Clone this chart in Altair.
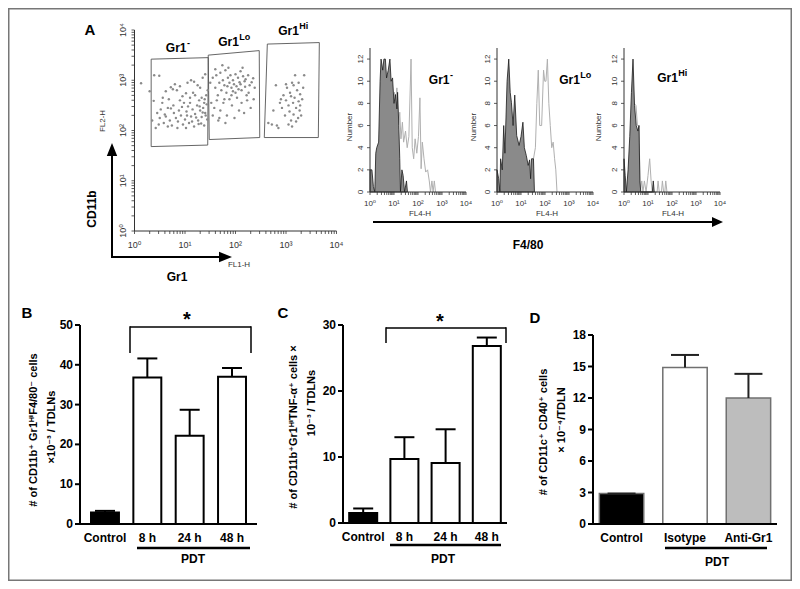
import math
import altair as alt
import pandas as pd

W, H = 784, 573
M = 8
FONT = "Liberation Sans, Arial, DejaVu Sans, sans-serif"


def px(v):
    return v - M


ONE = pd.DataFrame({"k": [0]})

# ---------------- Panel A: dot plot (log10 FL1-H, log10 FL2-H) ----------------
neg_x = [0.39, 0.49, 0.38, 0.72, 0.76, 0.84, 0.90, 0.80, 1.05, 1.12, 1.18, 1.25, 1.30, 1.35, 1.40, 0.62,
         0.55, 0.68, 0.95, 1.02, 1.10, 1.20, 1.28, 1.38, 1.42, 0.45, 0.50, 0.58, 0.62, 0.70, 0.74, 0.78,
         0.82, 0.86, 0.88, 0.92, 0.96, 1.00, 1.03, 1.06, 1.08, 1.12, 1.15, 1.18, 1.20, 1.24, 1.26, 1.30,
         1.33, 1.36, 1.38, 1.40, 1.43, 1.44, 0.66, 0.98, 0.35, 0.42, 0.52, 1.33, 1.45, 1.27, 0.30, 0.13,
         0.60, 0.72, 0.85, 0.94, 1.04, 1.14, 1.22, 1.32, 1.41, 0.48, 0.66, 0.90, 1.10, 1.35, 1.16, 1.02,
         0.77, 1.29, 1.39, 0.56]
neg_y = [3.10, 3.09, 2.59, 2.86, 2.82, 2.80, 2.88, 2.92, 2.95, 3.00, 2.97, 2.90, 2.85, 3.05, 3.12, 2.78,
         2.55, 2.62, 2.68, 2.74, 2.65, 2.70, 2.60, 2.55, 2.70, 2.35, 2.25, 2.15, 2.28, 2.20, 2.10, 2.35,
         2.25, 2.18, 2.40, 2.30, 2.12, 2.22, 2.38, 2.48, 2.15, 2.28, 2.42, 2.08, 2.33, 2.50, 2.20, 2.40,
         2.27, 2.45, 2.10, 2.35, 2.52, 2.22, 2.45, 2.55, 2.20, 2.05, 2.42, 2.65, 2.80, 2.13, 2.78, 2.94,
         2.32, 2.44, 2.05, 2.47, 2.30, 2.18, 2.26, 2.14, 2.30, 2.12, 2.08, 2.60, 2.55, 2.36, 2.75, 2.05,
         2.50, 2.48, 2.62, 2.65]
lo_x = [1.50, 1.55, 1.60, 1.62, 1.65, 1.68, 1.70, 1.72, 1.75, 1.78, 1.80, 1.82, 1.85, 1.88, 1.90, 1.92,
        1.95, 1.97, 2.00, 2.02, 2.05, 2.08, 2.10, 2.12, 2.15, 2.18, 2.20, 2.22, 2.25, 2.28, 2.32, 2.35,
        2.38, 1.52, 1.58, 1.63, 1.70, 1.76, 1.83, 1.88, 1.93, 1.98, 2.03, 2.07, 2.12, 2.17, 2.23, 2.30,
        1.55, 1.66, 1.80, 1.95, 2.00, 2.06, 1.86, 1.74, 2.14, 1.60, 1.68, 2.26, 2.36, 1.92, 2.10, 1.84,
        2.19, 1.78]
lo_y = [2.95, 3.05, 2.85, 3.10, 2.70, 2.95, 3.15, 2.80, 3.00, 2.90, 3.20, 2.75, 3.05, 2.95, 3.10, 2.85,
        3.00, 2.92, 3.12, 2.88, 3.05, 2.96, 3.18, 2.80, 3.08, 2.98, 3.02, 2.70, 3.10, 2.90, 2.96, 3.04,
        2.85, 2.55, 2.45, 2.60, 2.40, 2.55, 2.30, 2.62, 2.50, 2.25, 2.65, 2.40, 2.55, 2.35, 2.60, 2.45,
        2.30, 2.20, 2.15, 2.78, 2.75, 2.82, 3.25, 3.30, 3.25, 3.22, 2.25, 2.75, 2.62, 2.70, 2.92, 2.88,
        2.87, 2.62]
hi_x = [2.65, 2.72, 2.75, 2.80, 2.85, 2.88, 2.92, 2.95, 2.98, 3.00, 3.02, 3.05, 3.07, 3.08, 3.10, 3.12,
        3.14, 3.15, 3.17, 3.18, 3.20, 3.22, 3.24, 3.25, 3.27, 3.28, 3.30, 3.32, 3.34, 3.36, 3.05, 3.12,
        3.20, 2.90, 3.00, 3.10, 3.28, 2.82, 3.15, 3.25]
hi_y = [2.15, 2.12, 2.40, 2.90, 2.05, 2.55, 2.45, 2.70, 2.30, 2.60, 2.85, 2.50, 2.38, 2.75, 2.20, 2.95,
        2.55, 2.32, 2.65, 3.10, 2.45, 2.80, 2.25, 2.58, 2.40, 2.72, 2.30, 2.62, 2.85, 3.10, 2.12, 2.08,
        2.18, 2.62, 2.92, 2.68, 2.50, 2.10, 2.90, 2.95]

gate_neg_x = [0.33, 1.46, 1.45, 0.33, 0.33]
gate_neg_y = [3.42, 3.45, 1.71, 1.68, 3.42]
gate_lo_x = [1.46, 2.47, 2.48, 1.48, 1.46]
gate_lo_y = [3.50, 3.59, 1.86, 1.82, 3.50]
gate_hi_x = [2.63, 3.66, 3.64, 2.57, 2.63]
gate_hi_y = [3.72, 3.75, 1.86, 1.86, 3.72]

# ---------------- Panel A: histograms (log10 FL4-H vs number) ----------------
h1_iso_x = [0.00, 0.08, 0.14, 0.20, 0.24, 0.28, 0.36, 0.42, 0.46, 0.53, 0.58, 0.64, 0.69, 0.76, 0.83,
            0.88, 0.94, 1.00, 1.06, 1.12, 1.15, 1.20, 1.24, 1.27, 1.33, 1.38, 1.44, 1.52, 1.56]
h1_iso_y = [2, 2, 0.5, 0, 3.5, 4, 4.5, 10, 12, 11, 12, 12, 10.3, 11, 12, 10, 10.3, 8, 8.8, 7.5, 9, 6,
            3, 0, 2, 1.5, 0, 1, 0]
h1_pos_x = [0.95, 1.02, 1.08, 1.12, 1.18, 1.24, 1.29, 1.35, 1.40, 1.48, 1.55, 1.62, 1.71, 1.76, 1.82,
            1.88, 1.95, 2.02, 2.08, 2.13, 2.18, 2.25, 2.32, 2.40, 2.47, 2.52, 2.58, 2.63, 2.68, 2.73]
h1_pos_y = [8, 9, 8, 9.4, 5.7, 7.2, 4.8, 6.3, 4.5, 5.5, 4, 5, 12, 4, 3, 4.8, 3.5, 5, 8.5, 2.1, 4.5, 3,
            1.8, 2, 1, 0, 1, 0, 1, 0]

h2_iso_x = [0.00, 0.07, 0.12, 0.15, 0.22, 0.28, 0.33, 0.42, 0.49, 0.55, 0.60, 0.67, 0.74, 0.82, 0.92,
            1.00, 1.08, 1.14, 1.22, 1.30, 1.36, 1.40, 1.44, 1.52, 1.56]
h2_iso_y = [2, 1.2, 0, 3, 2, 6, 3.5, 10, 12, 9, 8.1, 6, 8.75, 5.1, 4.2, 5, 6.3, 4, 3.3, 2.4, 2.9, 1.2,
            3, 3, 0]
h2_pos_x = [1.42, 1.52, 1.60, 1.66, 1.72, 1.78, 1.86, 1.94, 1.99, 2.04, 2.10, 2.16, 2.22, 2.28, 2.34,
            2.40, 2.45, 2.50]
h2_pos_y = [0, 3, 4, 8, 11, 6, 6, 11, 10, 10, 12, 8, 6, 4, 4.5, 3, 2, 0]

h3_iso_x = [0.00, 0.05, 0.10, 0.17, 0.24, 0.31, 0.375, 0.44, 0.51, 0.58, 0.625, 0.66, 0.70, 1.18, 1.22,
            1.26]
h3_iso_y = [3, 1.5, 0, 2, 5, 9, 12, 7.8, 6, 5.5, 6, 1, 0, 0, 1, 0]
h3_pos_x = [0.42, 0.50, 0.56, 0.62, 0.68, 0.74, 0.79, 0.85, 0.92, 1.00, 1.07, 1.13, 1.18, 1.38, 1.42,
            1.47, 1.56, 1.60, 1.65, 1.70, 1.74, 1.79]
h3_pos_y = [8, 7.8, 6, 6, 0, 1, 0, 1, 0, 1.5, 3, 1, 0, 0, 1, 0, 0, 1, 0, 0, 1, 0]

# ---------------- Panels B, C, D: bars ----------------
b_cats = ["Control", "8 h", "24 h", "48 h"]
b_vals = [2.9, 36.8, 22.2, 37.0]
b_errs = [0.4, 4.8, 6.5, 2.2]

c_cats = ["Control", "8 h", "24 h", "48 h"]
c_vals = [1.5, 9.7, 9.1, 26.8]
c_errs = [0.7, 3.3, 5.1, 1.3]

d_cats = ["Control", "Isotype", "Anti-Gr1"]
d_vals = [2.9, 14.9, 12.0]
d_errs = [0.0, 1.2, 2.3]

# tick values / labels
LOG_TICKS = [round(n + math.log10(k), 5) for n in range(4) for k in range(1, 10)] + [4.0]
DECADES = [0, 1, 2, 3, 4]
DEC_LABELS = ["10⁰", "10¹", "10²", "10³", "10⁴"]
HIST_TICKS = [0, 2, 4, 6, 8, 10, 12]
B_TICKS = [0, 10, 20, 30, 40, 50]
C_TICKS = [0, 10, 20, 30]
D_TICKS = [0, 3, 6, 9, 12, 15, 18]


# ---------------- helpers ----------------
def T(s, x, y, size=12, bold=True, angle=None, align="center", baseline="middle", color="black"):
    kw = dict(text=s, font=FONT, fontSize=size, fontWeight="bold" if bold else "normal",
              align=align, baseline=baseline, color=color)
    if angle is not None:
        kw["angle"] = angle
    return alt.Chart(ONE).mark_text(**kw).encode(x=alt.value(px(x)), y=alt.value(px(y)))


SUPW = {"-": 0.40, "Lo": 1.22, "Hi": 1.00}


def SUPLAB(sup, cx, cy, size=12):
    wb = 1.72 * size
    ws = SUPW[sup] * 0.75 * size
    split = cx - (wb + ws) / 2 + wb
    return [T("Gr1", split, cy, size=size, align="right"),
            T(sup, split + 0.5, cy - 0.42 * size, size=round(0.75 * size), align="left")]


def SEG(x1, y1, x2, y2, w=2, color="black"):
    return alt.Chart(ONE).mark_rule(color=color, strokeWidth=w, strokeCap="butt").encode(
        x=alt.value(px(x1)), y=alt.value(px(y1)), x2=alt.value(px(x2)), y2=alt.value(px(y2)))


def HEAD(x, y, path, size):
    return alt.Chart(ONE).mark_point(shape=path, filled=True, color="black", size=size, opacity=1,
                                     strokeWidth=0).encode(x=alt.value(px(x)), y=alt.value(px(y)))


def x_axis_q(sx, ticks, labels, lab_vals, y_pix, lab_y, size, lo, hi, color="#333", tl=3):
    line = alt.Chart(pd.DataFrame({"a": [lo], "b": [hi]})).mark_rule(
        color=color, strokeWidth=1).encode(
        x=alt.X("a:Q", scale=sx, axis=None), x2="b:Q", y=alt.value(px(y_pix)))
    tk = alt.Chart(pd.DataFrame({"v": ticks})).mark_rule(color=color, strokeWidth=0.8).encode(
        x=alt.X("v:Q", scale=sx, axis=None), y=alt.value(px(y_pix)), y2=alt.value(px(y_pix + tl)))
    lb = alt.Chart(pd.DataFrame({"v": lab_vals, "lab": labels})).mark_text(
        font=FONT, fontSize=size, color=color).encode(
        x=alt.X("v:Q", scale=sx, axis=None), y=alt.value(px(lab_y)), text="lab:N")
    return [line, tk, lb]


def y_axis_q(sy, ticks, labels, lab_vals, x_pix, lab_x, size, lo, hi, color="#333", tl=3):
    line = alt.Chart(pd.DataFrame({"a": [lo], "b": [hi]})).mark_rule(
        color=color, strokeWidth=1).encode(
        y=alt.Y("a:Q", scale=sy, axis=None), y2="b:Q", x=alt.value(px(x_pix)))
    tk = alt.Chart(pd.DataFrame({"v": ticks})).mark_rule(color=color, strokeWidth=0.8).encode(
        y=alt.Y("v:Q", scale=sy, axis=None), x=alt.value(px(x_pix - tl)), x2=alt.value(px(x_pix)))
    lb = alt.Chart(pd.DataFrame({"v": lab_vals, "lab": labels})).mark_text(
        font=FONT, fontSize=size, color=color, angle=270).encode(
        y=alt.Y("v:Q", scale=sy, axis=None), x=alt.value(px(lab_x)), text="lab:N")
    return [line, tk, lb]


# ---------------- scatter ----------------
scat_df = pd.DataFrame({"lx": neg_x + lo_x + hi_x, "ly": neg_y + lo_y + hi_y})
gate_rows = []
for name, gx, gy in [("neg", gate_neg_x, gate_neg_y), ("lo", gate_lo_x, gate_lo_y),
                     ("hi", gate_hi_x, gate_hi_y)]:
    for i, (a, b) in enumerate(zip(gx, gy)):
        gate_rows.append({"gate": name, "i": i, "lx": a, "ly": b})
gate_df = pd.DataFrame(gate_rows)

SX = alt.Scale(domain=[0, 4], range=[px(134.5), px(336.5)], nice=False, zero=False)
SY = alt.Scale(domain=[0, 4], range=[px(231), px(30)], nice=False, zero=False)

scat_pts = alt.Chart(scat_df).mark_circle(size=6, color="#8a8a8a", opacity=1).encode(
    x=alt.X("lx:Q", scale=SX, axis=None), y=alt.Y("ly:Q", scale=SY, axis=None))
gates = alt.Chart(gate_df).mark_line(color="#555", strokeWidth=0.9).encode(
    x=alt.X("lx:Q", scale=SX, axis=None), y=alt.Y("ly:Q", scale=SY, axis=None),
    detail="gate:N", order="i:Q")
scatter = alt.layer(
    gates, scat_pts,
    *x_axis_q(SX, LOG_TICKS, DEC_LABELS, DECADES, 231, 245, 9, 0, 4),
    *y_axis_q(SY, LOG_TICKS, DEC_LABELS, DECADES, 134.5, 123, 9, 0, 4),
)


# ---------------- histograms ----------------
def hist(iso_x, iso_y, pos_x, pos_y, x0):
    sx = alt.Scale(domain=[0, 4], range=[px(x0), px(x0 + 96)], nice=False, zero=False)
    sy = alt.Scale(domain=[0, 13], range=[px(192), px(48)], nice=False, zero=False)
    pos = alt.Chart(pd.DataFrame({"lx": pos_x, "n": pos_y})).mark_line(
        color="#b0b0b0", strokeWidth=1).encode(
        x=alt.X("lx:Q", scale=sx, axis=None), y=alt.Y("n:Q", scale=sy, axis=None))
    iso = alt.Chart(pd.DataFrame({"lx": iso_x, "n": iso_y})).mark_area(
        color="#8a8a8a", stroke="#1a1a1a", strokeWidth=0.8, opacity=1).encode(
        x=alt.X("lx:Q", scale=sx, axis=None), y=alt.Y("n:Q", scale=sy, axis=None))
    return alt.layer(
        pos, iso,
        *x_axis_q(sx, LOG_TICKS, DEC_LABELS, DECADES, 192, 204, 8, 0, 4),
        *y_axis_q(sy, HIST_TICKS, [str(v) for v in HIST_TICKS], HIST_TICKS, x0, x0 - 9, 8, 0, 13),
    )


hist1 = hist(h1_iso_x, h1_iso_y, h1_pos_x, h1_pos_y, 370)
hist2 = hist(h2_iso_x, h2_iso_y, h2_pos_x, h2_pos_y, 497)
hist3 = hist(h3_iso_x, h3_iso_y, h3_pos_x, h3_pos_y, 624)


# ---------------- bar panels ----------------
def bars(cats, vals, errs, colors, stroke, sw, xr, pi, po, y0, ytop, dmax, ticks, cap, errc):
    df = pd.DataFrame({"cat": cats, "val": vals, "top": [v + e for v, e in zip(vals, errs)]})
    xs = alt.Scale(domain=cats, range=[px(xr[0]), px(xr[1])], paddingInner=pi, paddingOuter=po)
    ys = alt.Scale(domain=[0, dmax], range=[px(y0), px(ytop)], nice=False, zero=True)
    X = alt.X("cat:N", scale=xs, axis=None, sort=cats)
    b = alt.Chart(df).mark_bar(stroke=stroke, strokeWidth=sw, opacity=1).encode(
        x=X, y=alt.Y("val:Q", scale=ys, axis=None),
        color=alt.Color("cat:N", scale=alt.Scale(domain=cats, range=colors), legend=None))
    e = alt.Chart(df).mark_rule(color=errc, strokeWidth=2).encode(
        x=X, y=alt.Y("val:Q", scale=ys, axis=None), y2="top:Q")
    c = alt.Chart(df).mark_tick(color=errc, thickness=2, size=cap, opacity=1).encode(
        x=X, y=alt.Y("top:Q", scale=ys, axis=None))
    # y axis
    yline = alt.Chart(pd.DataFrame({"a": [0], "b": [dmax]})).mark_rule(
        color="black", strokeWidth=2).encode(
        y=alt.Y("a:Q", scale=ys, axis=None), y2="b:Q", x=alt.value(px(xr[0])))
    tdf = pd.DataFrame({"v": ticks})
    yt = alt.Chart(tdf).mark_rule(color="black", strokeWidth=2).encode(
        y=alt.Y("v:Q", scale=ys, axis=None), x=alt.value(px(xr[0] - 5)), x2=alt.value(px(xr[0])))
    yl = alt.Chart(tdf).mark_text(font=FONT, fontSize=12, fontWeight="bold", align="right",
                                  color="black").encode(
        y=alt.Y("v:Q", scale=ys, axis=None), x=alt.value(px(xr[0] - 7)), text="v:Q")
    # x axis
    xline = SEG(xr[0] - 1, y0, xr[1], y0, w=2)
    xl = alt.Chart(pd.DataFrame({"cat": cats})).mark_text(
        font=FONT, fontSize=12, fontWeight="bold", color="black").encode(
        x=X, y=alt.value(px(y0 + 14)), text="cat:N")
    return alt.layer(b, e, c, yline, yt, yl, xline, xl)


barB = bars(b_cats, b_vals, b_errs, ["black", "white", "white", "white"], "black", 2,
            (80, 257), 0.34, 0.26, 524, 325, 50, B_TICKS, 20, "black")
barC = bars(c_cats, c_vals, c_errs, ["black", "white", "white", "white"], "black", 2,
            (343, 507), 0.32, 0.15, 523, 325, 30, C_TICKS, 20, "black")
barD = bars(d_cats, d_vals, d_errs, ["black", "white", "#bdbdbd"], "#707070", 1.5,
            (593, 777), 0.30, 0.10, 524, 335, 18, D_TICKS, 28, "#222")

# ---------------- annotations ----------------
ann = []
ann.append(alt.Chart(ONE).mark_rect(fillOpacity=0, stroke="#777", strokeWidth=1.5).encode(
    x=alt.value(0.75), y=alt.value(0.75), x2=alt.value(W - 0.75), y2=alt.value(H - 0.75)))
ann.append(T("A", 90, 30, size=15))
ann += SUPLAB("-", 178, 48)
ann += SUPLAB("Lo", 234, 42)
ann += SUPLAB("Hi", 293, 31)
ann += SUPLAB("-", 441, 80)
ann += SUPLAB("Lo", 575, 80)
ann += SUPLAB("Hi", 672, 78)
# arrows of the dot plot
ann.append(SEG(112, 258, 112, 150, w=2))
ann.append(SEG(111, 257, 225, 257, w=2))
ann.append(HEAD(112, 143, "M0,0L-0.4,1L0.4,1Z", 676))
ann.append(HEAD(232, 257, "M0,0L-1,-0.4L-1,0.4Z", 676))
ann.append(T("FL2-H", 103, 121, size=8, bold=False, angle=270, color="#333"))
ann.append(T("FL1-H", 239, 265, size=8, bold=False, color="#333"))
ann.append(T("CD11b", 92, 209, size=12, angle=270))
ann.append(T("Gr1", 177, 277, size=12))
# histogram annotations
for xl in (420, 547, 673):
    ann.append(T("FL4-H", xl, 214, size=8, bold=False, color="#333"))
for xn in (350, 474, 599):
    ann.append(T("Number", xn, 127, size=8, bold=False, angle=270, color="#333"))
ann.append(SEG(373, 222, 712, 222, w=2))
ann.append(HEAD(723, 222, "M0,0L-1,-0.45L-1,0.45Z", 484))
ann.append(T("F4/80", 528, 245, size=12))

# panel B
ann.append(T("B", 27, 313, size=15))
ann.append(T("# of CD11b⁺ Gr1ᴴⁱF4/80⁻ cells", 34, 430, size=11, angle=270))
ann.append(T("×10⁻³ / TDLNs", 52, 427, size=11, angle=270))
ann.append(SEG(130, 327, 251, 327, w=1.5))
ann.append(SEG(130, 326.3, 130, 353, w=1.5))
ann.append(SEG(251, 326.3, 251, 353, w=1.5))
ann.append(T("*", 187, 320, size=20))
ann.append(SEG(137, 548, 250, 548, w=2.5))
ann.append(T("PDT", 193, 559, size=12))

# panel C
ann.append(T("C", 283, 313, size=15))
ann.append(T("# of CD11b⁺Gr1ᴴⁱTNF-α⁺ cells ×", 294, 427, size=11, angle=270))
ann.append(T("10⁻³ / TDLNs", 312, 403, size=11, angle=270))
ann.append(SEG(386, 328, 506, 328, w=1.5))
ann.append(SEG(386, 327.3, 386, 343, w=1.5))
ann.append(SEG(506, 327.3, 506, 343, w=1.5))
ann.append(T("*", 440, 322, size=20))
ann.append(SEG(390, 545, 501, 545, w=2.5))
ann.append(T("PDT", 443, 559, size=12))

# panel D
ann.append(T("D", 535, 318, size=15))
ann.append(T("# of CD11c⁺ CD40⁺ cells", 544, 432, size=11, angle=270))
ann.append(T("× 10⁻⁴/TDLN", 562, 420, size=11, angle=270))
ann.append(SEG(665, 548, 767, 548, w=2.5))
ann.append(T("PDT", 717, 562, size=12))

chart = alt.layer(scatter, hist1, hist2, hist3, barB, barC, barD, *ann).resolve_scale(
    x="independent", y="independent", color="independent"
).properties(
    width=W, height=H, autosize=alt.AutoSizeParams(type="none"), padding=0
).configure_view(stroke=None)

chart.save("out.html", embed_options={"renderer": "svg", "actions": False})
